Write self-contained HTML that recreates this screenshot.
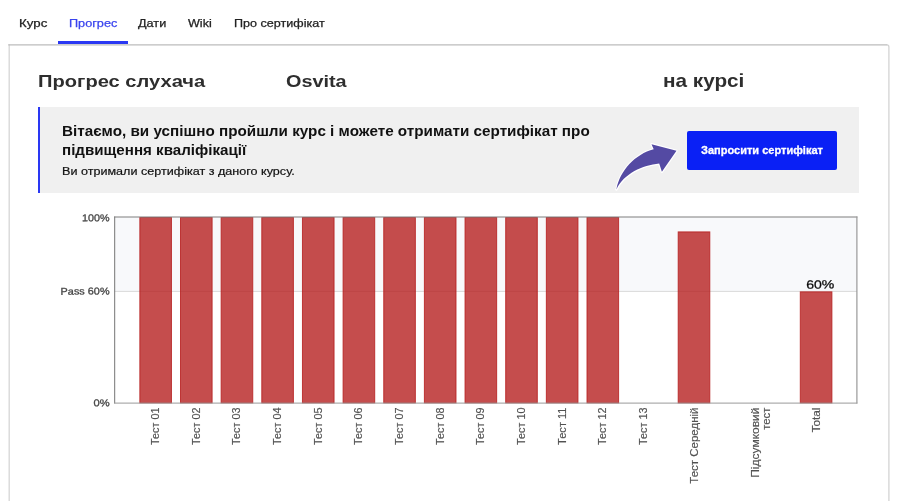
<!DOCTYPE html>
<html lang="uk"><head><meta charset="utf-8"><title>Прогрес</title>
<style>
html,body{margin:0;padding:0;background:#fff;}
body{width:900px;height:501px;position:relative;overflow:hidden;font-family:"Liberation Sans",sans-serif;color:#222;}
.t{position:absolute;white-space:nowrap;transform-origin:0 0;}
#tab1,#tab2,#tab3,#tab4,#tab5{-webkit-text-stroke:0.25px currentColor;}
#t2{-webkit-text-stroke:0.2px currentColor;}
#btxt{-webkit-text-stroke:0.3px currentColor;}
#uline{position:absolute;left:58px;top:41px;width:70px;height:3px;background:#2a38f3;}
#banner{position:absolute;left:38px;top:107px;width:821px;height:85.5px;background:#f0f0f0;border-left:2.5px solid #2a38f3;box-sizing:border-box;}
#btn{position:absolute;left:686.7px;top:130.5px;width:150.4px;height:39.4px;background:#0a20f5;border-radius:2px;}
.yl{font-size:9.9px;fill:#464646;stroke:#464646;stroke-width:0.3px;font-family:"Liberation Sans",sans-serif;}
.xl{font-size:10px;fill:#525252;stroke:#525252;stroke-width:0.15px;font-family:"Liberation Sans",sans-serif;}
.pl{font-size:12px;fill:#0a0a0a;font-family:"Liberation Sans",sans-serif;stroke:#0a0a0a;stroke-width:0.25px;}
</style></head><body>
<div id="uline"></div>
<svg id="panel" width="900" height="501" viewBox="0 0 900 501" style="position:absolute;left:0;top:0">
<line x1="9.2" y1="44.2" x2="9.2" y2="501" stroke="#d6d6d6" stroke-width="1.3"/>
<path d="M888.9 501 V47 Q888.9 44.95 886.9 44.95" fill="none" stroke="#d2d2d2" stroke-width="1.25"/>
<line x1="8.25" y1="44.95" x2="887.2" y2="44.95" stroke="#bcbcbc" stroke-width="1.25"/>
</svg>
<div id="banner"></div>
<div id="btn"></div>
<div class="t" id="tab1" style="left:19.00px;top:18.46px;font-size:10.8px;line-height:10.8px;font-weight:normal;color:#222;transform:scaleX(1.2313)">Курс</div>
<div class="t" id="tab2" style="left:68.70px;top:18.46px;font-size:10.8px;line-height:10.8px;font-weight:normal;color:#3a44ee;transform:scaleX(1.1745)">Прогрес</div>
<div class="t" id="tab3" style="left:138.15px;top:18.46px;font-size:10.8px;line-height:10.8px;font-weight:normal;color:#222;transform:scaleX(1.1740)">Дати</div>
<div class="t" id="tab4" style="left:188.15px;top:18.46px;font-size:10.8px;line-height:10.8px;font-weight:normal;color:#222;transform:scaleX(1.1648)">Wiki</div>
<div class="t" id="tab5" style="left:233.90px;top:18.46px;font-size:10.8px;line-height:10.8px;font-weight:normal;color:#222;transform:scaleX(1.1647)">Про сертифікат</div>
<div class="t" id="h1" style="left:38.40px;top:73.17px;font-size:17.4px;line-height:17.4px;font-weight:bold;color:#2e2e2e;transform:scaleX(1.1561)">Прогрес слухача</div>
<div class="t" id="h2" style="left:286.40px;top:73.34px;font-size:17.2px;line-height:17.2px;font-weight:bold;color:#2e2e2e;transform:scaleX(1.1533)">Osvita</div>
<div class="t" id="h3" style="left:662.80px;top:72.22px;font-size:18.4px;line-height:18.4px;font-weight:bold;color:#2e2e2e;transform:scaleX(1.1271)">на курсі</div>
<div class="t" id="t1a" style="left:61.90px;top:123.98px;font-size:14.2px;line-height:14.2px;font-weight:bold;color:#111;transform:scaleX(1.0747)">Вітаємо, ви успішно пройшли курс і можете отримати сертифікат про</div>
<div class="t" id="t1b" style="left:61.90px;top:143.28px;font-size:14.2px;line-height:14.2px;font-weight:bold;color:#111;transform:scaleX(1.0668)">підвищення кваліфікації</div>
<div class="t" id="t2" style="left:61.90px;top:165.52px;font-size:11.2px;line-height:11.2px;font-weight:normal;color:#111;transform:scaleX(1.1250)">Ви отримали сертифікат з даного курсу.</div>
<div class="t" id="btxt" style="left:701.20px;top:145.12px;font-size:11.2px;line-height:11.2px;font-weight:bold;color:#fff;transform:scaleX(0.9857)">Запросити сертифікат</div>
<svg id="arrow" width="900" height="501" viewBox="0 0 900 501" style="position:absolute;left:0;top:0;pointer-events:none">
<path d="M616.4 189.4 C619.9 170.6 635.2 154.1 653.7 149.3 L651.5 144.2 L676.5 150.8 L661.9 171.8 L659.2 163.6 C642.5 165.2 624.1 173.7 616.4 189.4 Z" fill="#544aa3" stroke="#fff" stroke-width="2.4" stroke-linejoin="round" style="paint-order:stroke"/>
</svg>
<svg id="chart" width="900" height="501" viewBox="0 0 900 501" style="position:absolute;left:0;top:0">
<rect x="114.5" y="217.0" width="742.5" height="74.4" fill="#f8f9fb"/>
<line x1="114.5" y1="291.4" x2="857" y2="291.4" stroke="#d9d9d9" stroke-width="1"/>
<rect x="139.85" y="217.50" width="31.60" height="185.40" fill="#b72121" fill-opacity="0.8" stroke="#b72121" stroke-opacity="0.85" stroke-width="1"/>
<rect x="180.50" y="217.50" width="31.60" height="185.40" fill="#b72121" fill-opacity="0.8" stroke="#b72121" stroke-opacity="0.85" stroke-width="1"/>
<rect x="221.15" y="217.50" width="31.60" height="185.40" fill="#b72121" fill-opacity="0.8" stroke="#b72121" stroke-opacity="0.85" stroke-width="1"/>
<rect x="261.80" y="217.50" width="31.60" height="185.40" fill="#b72121" fill-opacity="0.8" stroke="#b72121" stroke-opacity="0.85" stroke-width="1"/>
<rect x="302.45" y="217.50" width="31.60" height="185.40" fill="#b72121" fill-opacity="0.8" stroke="#b72121" stroke-opacity="0.85" stroke-width="1"/>
<rect x="343.10" y="217.50" width="31.60" height="185.40" fill="#b72121" fill-opacity="0.8" stroke="#b72121" stroke-opacity="0.85" stroke-width="1"/>
<rect x="383.75" y="217.50" width="31.60" height="185.40" fill="#b72121" fill-opacity="0.8" stroke="#b72121" stroke-opacity="0.85" stroke-width="1"/>
<rect x="424.40" y="217.50" width="31.60" height="185.40" fill="#b72121" fill-opacity="0.8" stroke="#b72121" stroke-opacity="0.85" stroke-width="1"/>
<rect x="465.05" y="217.50" width="31.60" height="185.40" fill="#b72121" fill-opacity="0.8" stroke="#b72121" stroke-opacity="0.85" stroke-width="1"/>
<rect x="505.70" y="217.50" width="31.60" height="185.40" fill="#b72121" fill-opacity="0.8" stroke="#b72121" stroke-opacity="0.85" stroke-width="1"/>
<rect x="546.35" y="217.50" width="31.60" height="185.40" fill="#b72121" fill-opacity="0.8" stroke="#b72121" stroke-opacity="0.85" stroke-width="1"/>
<rect x="587.00" y="217.50" width="31.60" height="185.40" fill="#b72121" fill-opacity="0.8" stroke="#b72121" stroke-opacity="0.85" stroke-width="1"/>
<rect x="678.20" y="231.91" width="31.60" height="170.99" fill="#b72121" fill-opacity="0.8" stroke="#b72121" stroke-opacity="0.85" stroke-width="1"/>
<rect x="800.30" y="291.86" width="31.60" height="111.04" fill="#b72121" fill-opacity="0.8" stroke="#b72121" stroke-opacity="0.85" stroke-width="1"/>
<line x1="114.7" y1="216.5" x2="114.7" y2="403.5" stroke="#747474" stroke-width="1"/>
<line x1="114.2" y1="217.0" x2="857.4" y2="217.0" stroke="#7e7e7e" stroke-width="1.1"/>
<line x1="856.9" y1="216.5" x2="856.9" y2="403.5" stroke="#999" stroke-width="1.2"/>
<line x1="114.2" y1="403.1" x2="857.4" y2="403.1" stroke="#999" stroke-width="1"/>
<text transform="translate(82.0,221.3) rotate(-0.4)" textLength="27.6" lengthAdjust="spacingAndGlyphs" class="yl">100%</text>
<text transform="translate(60.6,294.7) rotate(-0.4)" textLength="49" lengthAdjust="spacingAndGlyphs" class="yl">Pass 60%</text>
<text transform="translate(93.4,406.2) rotate(-0.4)" textLength="16.2" lengthAdjust="spacingAndGlyphs" class="yl">0%</text>
<text transform="translate(159.2,444.9) rotate(-90)" textLength="37.4" lengthAdjust="spacingAndGlyphs" class="xl">Тест 01</text>
<text transform="translate(199.8,444.9) rotate(-90)" textLength="37.4" lengthAdjust="spacingAndGlyphs" class="xl">Тест 02</text>
<text transform="translate(240.4,444.9) rotate(-90)" textLength="37.4" lengthAdjust="spacingAndGlyphs" class="xl">Тест 03</text>
<text transform="translate(281.1,444.9) rotate(-90)" textLength="37.4" lengthAdjust="spacingAndGlyphs" class="xl">Тест 04</text>
<text transform="translate(321.8,444.9) rotate(-90)" textLength="37.4" lengthAdjust="spacingAndGlyphs" class="xl">Тест 05</text>
<text transform="translate(362.4,444.9) rotate(-90)" textLength="37.4" lengthAdjust="spacingAndGlyphs" class="xl">Тест 06</text>
<text transform="translate(403.0,444.9) rotate(-90)" textLength="37.4" lengthAdjust="spacingAndGlyphs" class="xl">Тест 07</text>
<text transform="translate(443.7,444.9) rotate(-90)" textLength="37.4" lengthAdjust="spacingAndGlyphs" class="xl">Тест 08</text>
<text transform="translate(484.4,444.9) rotate(-90)" textLength="37.4" lengthAdjust="spacingAndGlyphs" class="xl">Тест 09</text>
<text transform="translate(525.0,444.9) rotate(-90)" textLength="37.4" lengthAdjust="spacingAndGlyphs" class="xl">Тест 10</text>
<text transform="translate(565.6,444.9) rotate(-90)" textLength="37.4" lengthAdjust="spacingAndGlyphs" class="xl">Тест 11</text>
<text transform="translate(606.3,444.9) rotate(-90)" textLength="37.4" lengthAdjust="spacingAndGlyphs" class="xl">Тест 12</text>
<text transform="translate(646.9,444.9) rotate(-90)" textLength="37.4" lengthAdjust="spacingAndGlyphs" class="xl">Тест 13</text>
<text transform="translate(697.5,483.7) rotate(-90)" textLength="76.2" lengthAdjust="spacingAndGlyphs" class="xl">Тест Середній</text>
<text transform="translate(758.5,477.8) rotate(-90)" textLength="70.3" lengthAdjust="spacingAndGlyphs" class="xl">Підсумковий</text>
<text transform="translate(770.2,429.8) rotate(-90)" textLength="22.3" lengthAdjust="spacingAndGlyphs" class="xl">тест</text>
<text transform="translate(819.6,432.5) rotate(-90)" textLength="25.0" lengthAdjust="spacingAndGlyphs" class="xl">Total</text>
<text transform="translate(806.2,288.7) rotate(-0.4)" textLength="28.2" lengthAdjust="spacingAndGlyphs" class="pl">60%</text>
</svg>
</body></html>
